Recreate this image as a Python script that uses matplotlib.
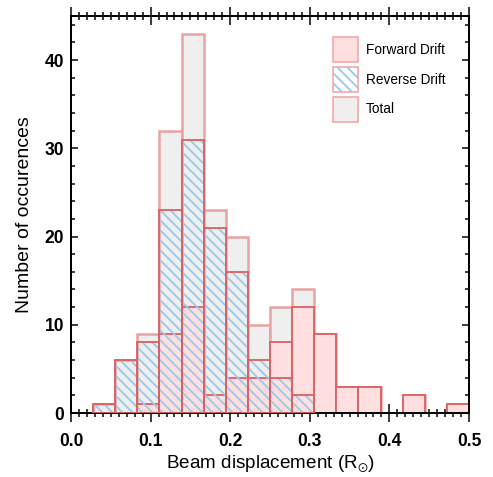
import numpy as np
import matplotlib.pyplot as plt
from matplotlib.patches import Patch
from matplotlib.legend_handler import HandlerTuple
from matplotlib.ticker import MultipleLocator

plt.rcParams['font.family'] = ['Liberation Sans', 'DejaVu Sans']
plt.rcParams['mathtext.fontset'] = 'custom'
plt.rcParams['mathtext.rm'] = 'Liberation Sans'
plt.rcParams['hatch.linewidth'] = 1.1

# histogram bins: 18 bins between 0 and 0.5 R_sun
bin_edges = np.linspace(0.0, 0.5, 19)
total_counts = [0, 1, 6, 9, 32, 43, 23, 20, 10, 12, 14, 9, 3, 3, 0, 2, 0, 1]
forward_counts = [0, 0, 0, 1, 9, 12, 2, 4, 4, 8, 12, 9, 3, 3, 0, 2, 0, 1]
reverse_counts = [0, 1, 6, 8, 23, 31, 21, 16, 6, 4, 2, 0, 0, 0, 0, 0, 0, 0]

DPI = 120
fig = plt.figure(figsize=(494 / DPI, 477 / DPI), dpi=DPI)
ax = fig.add_axes([71 / 494, 1 - 413 / 477, 398 / 494, 397 / 477])

left = bin_edges[:-1]
width = np.diff(bin_edges)

red = '#d96262'
pale_red = '#e8a3a3'
pink = '#ffdfdf'
grey = '#efefef'
blue = '#92cbf3'
HATCH = '\\\\\\\\'


def draw(counts, **kw):
    counts = np.asarray(counts)
    keep = counts > 0
    ax.bar(left[keep], counts[keep], width=width[keep], align='edge', **kw)


draw(total_counts, color=grey, edgecolor=pale_red, linewidth=1.5, zorder=1)
draw(forward_counts, color=pink, edgecolor=red, linewidth=1.1, zorder=2)
draw(reverse_counts, color='none', edgecolor=blue, hatch=HATCH, linewidth=0, zorder=3)
draw(reverse_counts, color='none', edgecolor=red, linewidth=1.1, zorder=4)

ax.set_xlim(0, 0.5)
ax.set_ylim(0, 45)
ax.set_axisbelow(True)

ax.xaxis.set_major_locator(MultipleLocator(0.1))
ax.xaxis.set_minor_locator(MultipleLocator(0.01))
ax.yaxis.set_major_locator(MultipleLocator(10))
ax.yaxis.set_minor_locator(MultipleLocator(2))
ax.set_xticks(np.arange(0, 0.51, 0.1))
ax.set_xticklabels(['0.0', '0.1', '0.2', '0.3', '0.4', '0.5'])

ax.tick_params(axis='x', which='major', direction='inout', length=10.6, width=0.9,
               top=True, bottom=True, labelsize=10.5, pad=6.5)
ax.tick_params(axis='x', which='minor', direction='inout', length=5, width=0.9,
               top=True, bottom=True)
ax.tick_params(axis='y', which='major', direction='in', length=4.2, width=0.9,
               left=True, right=True, labelsize=10.5, pad=4)
ax.tick_params(axis='y', which='minor', direction='in', length=2.6, width=0.9,
               left=True, right=True)
for lab in ax.get_xticklabels() + ax.get_yticklabels():
    lab.set_fontweight('bold')

for sp in ax.spines.values():
    sp.set_linewidth(1.2)

ax.set_xlabel('Beam displacement (R$_{⊙}$)', fontsize=11.3, labelpad=2)
ax.set_ylabel('Number of occurences', fontsize=11.7, labelpad=7)

edge_pk = '#f5a8a8'
h_fwd = Patch(facecolor=pink, edgecolor=edge_pk, linewidth=1)
h_rev = (Patch(facecolor='white', edgecolor=blue, hatch=HATCH, linewidth=0),
         Patch(facecolor='none', edgecolor=edge_pk, linewidth=1))
h_tot = Patch(facecolor=grey, edgecolor=edge_pk, linewidth=1)
fig.legend([h_fwd, h_rev, h_tot], ['Forward Drift', 'Reverse Drift', 'Total'],
           handler_map={tuple: HandlerTuple(ndivide=1, pad=0)},
           loc='upper left', bbox_to_anchor=(333 / 494, 1 - 37 / 477),
           frameon=False, fontsize=8.2, borderpad=0, borderaxespad=0,
           handlelength=1.83, handleheight=2.44, labelspacing=0.35,
           handletextpad=0.55)

fig.savefig('out.png', dpi=DPI)
